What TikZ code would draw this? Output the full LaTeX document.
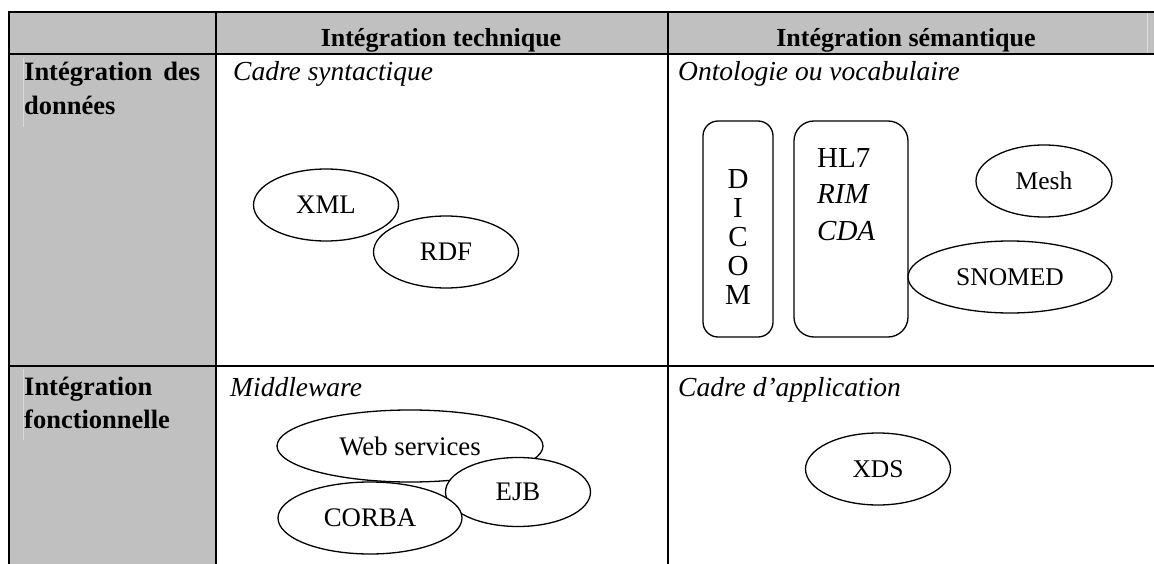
\documentclass[tikz,border=0pt]{standalone}
\usepackage{fontspec}
\setmainfont{Liberation Serif}
\usetikzlibrary{shapes.geometric}
\definecolor{cellgray}{HTML}{C0C0C0}
\definecolor{seamgray}{HTML}{DADADA}

\begin{document}
\begin{tikzpicture}[x=1pt,y=-1pt,
  every node/.style={font=\fontsize{25.5}{33.5}\selectfont},
  rule/.style={line width=2.2pt},
  seam/.style={line width=0.8pt,seamgray},
  colhead/.style={anchor=base,inner sep=0,font=\fontsize{26}{33.5}\selectfont\bfseries},
  rowhead/.style={anchor=base west,inner sep=0,text width=176pt,align=justify,
    font=\fontsize{26.5}{33.5}\selectfont\bfseries},
  subtitle/.style={anchor=base west,inner sep=0,font=\fontsize{27.5}{33.5}\selectfont\itshape},
  blob/.style={shape=ellipse,draw,fill=white,line width=1.3pt,inner sep=0,minimum height=72pt},
  bigblob/.style={blob,font=\fontsize{26.8}{33.5}\selectfont},
  stdbox/.style={draw,line width=1.3pt,inner sep=0,minimum height=216pt},
  boxtext/.style={inner sep=0,font=\fontsize{29}{29}\selectfont}]
\useasboundingbox (0,0) rectangle (1154,564);

% shaded cells
\fill [cellgray] (9,12) rectangle (1154,54);
\fill [cellgray] (9,12) rectangle (216,564);
\draw [seam] (1147,13) -- (1147,53);
\draw [seam] (23,58) -- (23,127);
\draw [seam] (23,369) -- (23,440);

% grid
\draw [rule] (8,12) -- (1154,12);
\draw [rule] (8,54) -- (1154,54);
\draw [rule] (8,366) -- (1154,366);
\draw [rule] (9,12) -- (9,564);
\draw [rule] (216,12) -- (216,564);
\draw [rule] (668,12) -- (668,564);

% headers
\path (441,47) node (tech) [colhead] {Intégration technique};
\path (906,47) node (sem) [colhead] {Intégration sémantique};
\path (24,81) node (donnees) [rowhead] {Intégration des données};
\path (24,395) node (fonct) [rowhead] {Intégration\\fonctionnelle};

\path (233,81) node (syntax) [subtitle] {Cadre syntactique};
\path (678,81) node (onto) [subtitle] {Ontologie ou vocabulaire};
\path (230,396) node (middle) [subtitle] {Middleware};
\path (678,396) node (appli) [subtitle] {Cadre d’application};

% cadre syntactique
\path (326,205) node (xml) [bigblob,minimum width=145pt] {XML};
\path (446,252) node (rdf) [bigblob,minimum width=145pt] {RDF};

% ontologie
\path (738,229) node (dicom) [stdbox,rounded corners=15pt,minimum width=70pt] {};
\path (738,169) node (dicomtxt) [boxtext,anchor=north,align=center] {D\\I\\C\\O\\M};
\path (851,229) node (hl) [stdbox,rounded corners=20pt,minimum width=114pt] {};
\path (817,148) node (hltxt) [boxtext,anchor=north west,align=left,
  font=\fontsize{29}{36.5}\selectfont] {HL7\\\textit{RIM}\\\textit{CDA}};
\path (1044,181) node (mesh) [blob,minimum width=136pt] {Mesh};
\path (1010,277) node (snomed) [blob,minimum width=204pt] {SNOMED};

% middleware
\path (410,446) node (web) [bigblob,minimum width=266pt] {Web services};
\path (518,492) node (ejb) [bigblob,minimum width=145pt,minimum height=69pt] {EJB};
\path (370,518) node (corba) [bigblob,minimum width=184pt] {CORBA};

% cadre d'application
\path (878,469) node (xds) [blob,minimum width=145pt] {XDS};
\end{tikzpicture}
\end{document}
